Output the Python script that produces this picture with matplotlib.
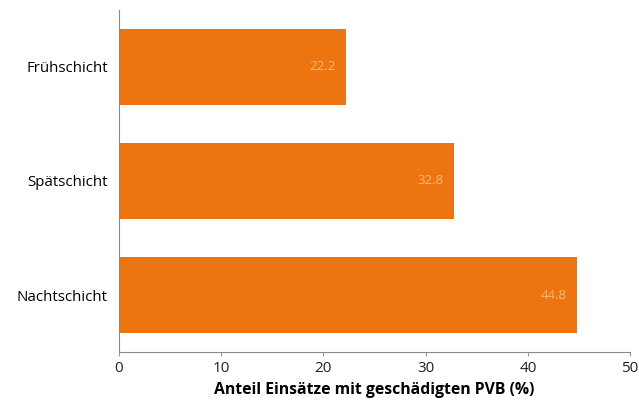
import matplotlib.pyplot as plt

schichten = ['Frühschicht', 'Spätschicht', 'Nachtschicht']
anteil = [22.2, 32.8, 44.8]
labels = ['22.2', '32.8', '44.8']

plt.rcParams['font.family'] = ['Open Sans', 'DejaVu Sans']

fig = plt.figure(figsize=(6.39, 4.09), dpi=100)
ax = fig.add_axes([0.186, 0.139, 0.8, 0.837])

pos = range(len(schichten))
ax.barh(pos, anteil, height=0.66, color='#ec7511')
for p, v, t in zip(pos, anteil, labels):
    ax.text(v - 1.0, p, t, ha='right', va='center', color='#f6b77c', fontsize=9.5)

ax.set_yticks(list(pos))
ax.set_yticklabels(schichten, fontsize=10.8)
ax.set_ylim(2.5, -0.5)
ax.set_xlim(0, 50)
ax.set_xticks([0, 10, 20, 30, 40, 50])
ax.tick_params(axis='x', labelsize=11, length=3, color='#999999', colors='#222222')
ax.tick_params(axis='y', length=0, pad=8)
ax.set_xlabel('Anteil Einsätze mit geschädigten PVB (%)', fontsize=11.3, fontweight='bold')

for s in ['top', 'right']:
    ax.spines[s].set_visible(False)
for s in ['left', 'bottom']:
    ax.spines[s].set_color('#888888')

plt.savefig('out.png')
